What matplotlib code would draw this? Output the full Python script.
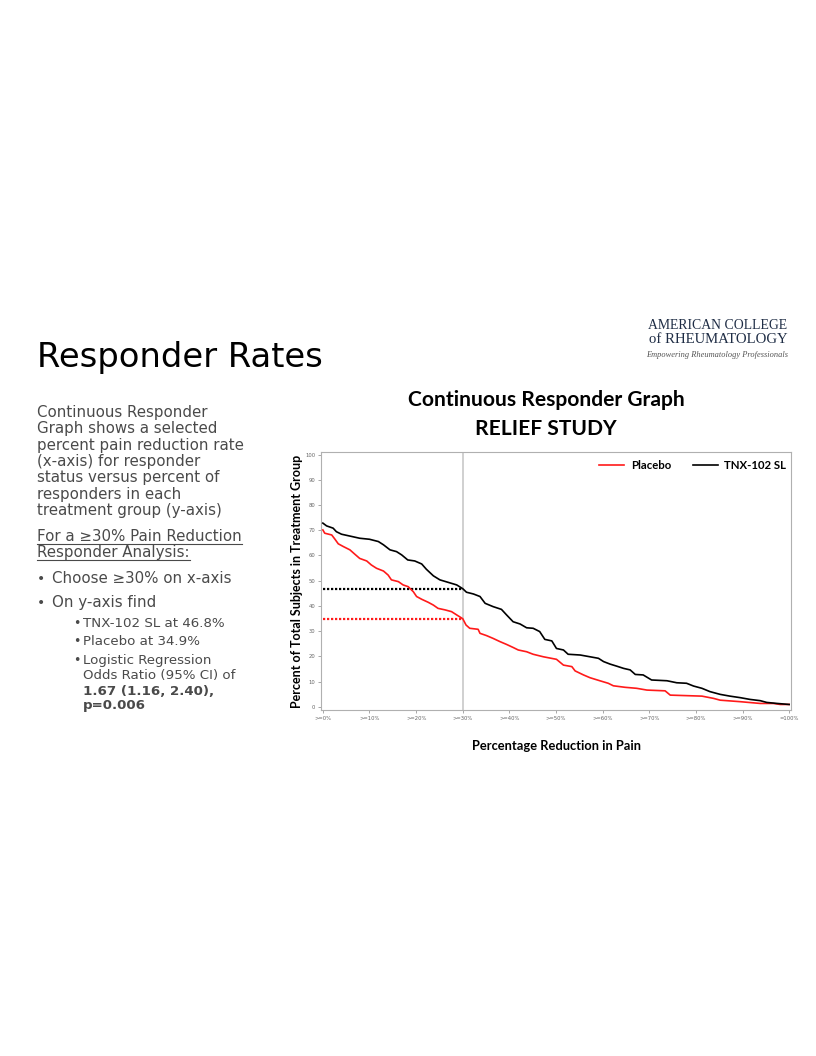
import matplotlib
matplotlib.use("Agg")
import matplotlib.pyplot as plt
from matplotlib.lines import Line2D

# percent pain reduction (x) vs percent of responders (y)
tnx_x = [0, 0.8, 2.2, 2.9, 4.0, 6.2, 7.9, 10.0, 11.9, 13.0, 14.4, 15.8, 16.9, 18.2,
         19.7, 21.2, 22.2, 23.7, 25.1, 26.9, 28.7, 30.0, 30.8, 32.3, 33.7, 34.8,
         36.5, 38.3, 39.4, 40.8, 42.3, 43.7, 45.1, 46.5, 47.6, 49.1, 50.1, 51.6,
         52.6, 55.2, 57.3, 59.1, 60.2, 61.6, 63.0, 64.5, 65.9, 67.0, 68.7, 70.5,
         73.8, 75.9, 78.0, 79.5, 81.3, 83.0, 85.2, 87.3, 89.5, 91.6, 93.8, 95.2,
         97.4, 100]
tnx_y = [72.8, 71.7, 70.8, 69.4, 68.4, 67.5, 66.8, 66.4, 65.5, 64.2, 62.2, 61.5,
         60.2, 58.2, 57.8, 56.6, 54.5, 51.9, 50.3, 49.3, 48.3, 46.8, 45.4, 44.7,
         43.7, 41.0, 39.7, 38.6, 36.4, 33.7, 32.8, 31.3, 31.1, 29.8, 26.7, 26.1,
         23.1, 22.5, 20.8, 20.5, 19.8, 19.2, 17.9, 16.9, 16.1, 15.2, 14.6, 12.8,
         12.6, 10.6, 10.3, 9.5, 9.3, 8.2, 7.3, 6.0, 4.9, 4.2, 3.6, 2.9, 2.4, 1.7,
         1.3, 0.9]

placebo_x = [0, 0.4, 1.9, 2.6, 3.3, 4.4, 5.8, 6.9, 7.9, 9.4, 10.4, 11.5, 13.0, 14.0,
             14.7, 16.2, 17.2, 18.3, 19.4, 20.1, 21.2, 22.6, 23.7, 24.7, 26.2, 27.6,
             28.7, 30.0, 30.7, 31.5, 33.3, 33.7, 35.1, 36.5, 38.0, 39.4, 40.8, 41.9,
             43.7, 45.1, 47.3, 50.1, 51.6, 53.4, 54.1, 55.9, 57.3, 59.4, 61.2, 62.3,
             64.8, 67.3, 69.5, 73.4, 74.5, 81.3, 83.8, 85.2, 89.5, 93.8, 96.6, 98.1, 100]
placebo_y = [70.1, 68.8, 68.1, 66.4, 64.6, 63.5, 62.2, 60.4, 58.8, 57.8, 56.2, 54.9,
             53.8, 52.2, 50.3, 49.6, 48.3, 47.6, 45.6, 43.7, 42.6, 41.4, 40.3, 39.0,
             38.4, 37.7, 36.4, 34.9, 32.4, 31.1, 30.7, 29.1, 28.2, 27.1, 25.8, 24.7,
             23.5, 22.5, 21.8, 20.8, 19.8, 18.8, 16.5, 15.9, 14.2, 12.6, 11.5, 10.3,
             9.3, 8.3, 7.7, 7.3, 6.6, 6.3, 4.6, 4.2, 3.3, 2.6, 2.0, 1.3, 1.3, 0.9, 0.9]

x_ticks = [0, 10, 20, 30, 40, 50, 60, 70, 80, 90, 100]
x_labels = [">=0%", ">=10%", ">=20%", ">=30%", ">=40%", ">=50%", ">=60%",
            ">=70%", ">=80%", ">=90%", "=100%"]
y_ticks = [0, 10, 20, 30, 40, 50, 60, 70, 80, 90, 100]

cut = 30
tnx_at_cut = 46.8
placebo_at_cut = 34.9

W, H = 816, 1056
fig = plt.figure(figsize=(W / 100, H / 100), dpi=100)
fig.patch.set_facecolor("white")

def fx(px):
    return px / W

def fy(py):
    return 1 - py / H

# slide title
fig.text(fx(37), fy(367), "Responder Rates", fontsize=24.3, color="black",
         family="DejaVu Sans", va="baseline")

# logo
logo_col = "#1f2d45"
fig.text(fx(718), fy(329), "AMERICAN COLLEGE", fontsize=9.9, color=logo_col,
         family="Liberation Serif", ha="center", va="baseline")
fig.text(fx(718), fy(343), "of RHEUMATOLOGY", fontsize=10.6, color=logo_col,
         family="Liberation Serif", ha="center", va="baseline")
fig.text(fx(717), fy(357), "Empowering Rheumatology Professionals", fontsize=6.0,
         color="#555555", family="Liberation Serif", style="italic",
         ha="center", va="baseline")

# left text block
txt_col = "#4a4a4a"
body = ["Continuous Responder", "Graph shows a selected",
        "percent pain reduction rate", "(x-axis) for responder",
        "status versus percent of", "responders in each",
        "treatment group (y-axis)"]
for i, line in enumerate(body):
    fig.text(fx(37), fy(417 + i * 16.3), line, fontsize=10.8, color=txt_col,
             va="baseline")

under = []
for i, line in enumerate(["For a \u226530% Pain Reduction", "Responder Analysis:"]):
    t = fig.text(fx(37), fy(541 + i * 16.2), line, fontsize=10.8, color=txt_col,
                 va="baseline")
    under.append((t, 541 + i * 16.2))

for yb, line in [(583, "Choose \u226530% on x-axis"), (607, "On y-axis find")]:
    fig.text(fx(37), fy(yb), "\u2022", fontsize=10, color=txt_col, va="baseline")
    fig.text(fx(52), fy(yb), line, fontsize=10.8, color=txt_col, va="baseline")

subs = [(627, "TNX-102 SL at 46.8%", "normal", True),
        (645, "Placebo at 34.9%", "normal", True),
        (664, "Logistic Regression", "normal", True),
        (679, "Odds Ratio (95% CI) of", "normal", False),
        (695, "1.67 (1.16, 2.40),", "bold", False),
        (709, "p=0.006", "bold", False)]
for yb, line, w, dot in subs:
    if dot:
        fig.text(fx(73.5), fy(yb), "\u2022", fontsize=9, color=txt_col, va="baseline")
    fig.text(fx(83), fy(yb), line, fontsize=9.6, color=txt_col, fontweight=w,
             va="baseline")

# chart title
fig.text(fx(546), fy(406), "Continuous Responder Graph", fontsize=15.1,
         fontweight="bold", family="Lato", ha="center", va="baseline")
fig.text(fx(546), fy(435), "RELIEF STUDY", fontsize=15.1, fontweight="bold",
         family="Lato", ha="center", va="baseline")

# chart
ax = fig.add_axes([fx(321), fy(710), fx(791) - fx(321), fy(452) - fy(710)])
ax.axvline(cut, color="#c8c8c8", lw=1.2, zorder=1)
ax.hlines(tnx_at_cut, 0, cut, colors="black", linestyles=(0, (1, 0.8)), lw=1.6, zorder=3)
ax.hlines(placebo_at_cut, 0, cut, colors="#ff1a1a", linestyles=(0, (1, 0.8)), lw=1.6, zorder=3)
ax.plot(placebo_x, placebo_y, color="#ff1a1a", lw=1.2, label="Placebo", zorder=4)
ax.plot(tnx_x, tnx_y, color="black", lw=1.2, label="TNX-102 SL", zorder=4)

ax.set_xlim(-0.4, 100.4)
ax.set_ylim(-1.3, 101)
ax.set_xticks(x_ticks)
ax.set_xticklabels(x_labels)
ax.set_yticks(y_ticks)
ax.tick_params(labelsize=3.8, labelcolor="#666666", color="#999999",
               length=2, width=0.6, pad=2)
for s in ax.spines.values():
    s.set_color("#b0b0b0")
    s.set_linewidth(0.8)

ax.set_ylabel("Percent of Total Subjects in Treatment Group", fontsize=9.0,
              fontweight="bold", family="Lato", labelpad=2)
ax.set_xlabel("Percentage Reduction in Pain", fontsize=9.3, fontweight="bold",
              family="Lato", labelpad=14)

ax.legend(loc="upper right", bbox_to_anchor=(1.0, 0.985), ncol=2, frameon=False,
          handlelength=2.2, columnspacing=1.9, handletextpad=0.6, borderaxespad=0.0,
          prop={"family": "Lato", "weight": "bold", "size": 8.2})

# underline the analysis heading
fig.canvas.draw()
r = fig.canvas.get_renderer()
for t, yb in under:
    bb = t.get_window_extent(r)
    y0 = fy(yb + 2.5)
    fig.add_artist(Line2D([bb.x0 / W, bb.x1 / W], [y0, y0], color=txt_col, lw=0.8))

fig.savefig("out.png", dpi=100, facecolor="white")
